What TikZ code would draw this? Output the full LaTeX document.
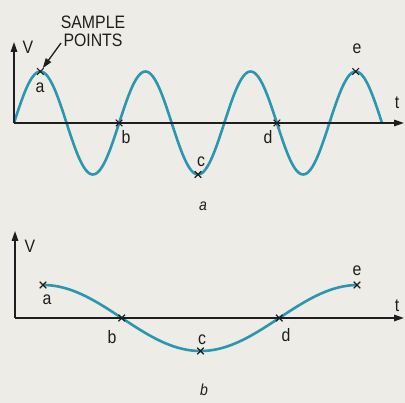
\documentclass[tikz,border=0pt]{standalone}
\usepackage{fontspec}
\setmainfont{Liberation Sans}[FakeStretch=0.88]
\usetikzlibrary{arrows.meta,shapes.misc}
\definecolor{bg}{RGB}{237,236,231}
\definecolor{wave}{RGB}{42,150,176}
\definecolor{ink}{RGB}{30,30,30}
\tikzset{
  axis/.style={draw=ink,line width=1.4pt,-{Triangle[length=10pt,width=6.5pt]}},
  wavepath/.style={draw=wave,line width=2.6pt},
  smp/.style={cross out,draw=ink,line width=1.1pt,minimum size=5.5pt,inner sep=0pt},
  lbl/.style={text=ink,font=\fontsize{18}{20}\selectfont,inner sep=0pt},
  captxt/.style={text=ink,font=\fontsize{16}{18}\selectfont\itshape,inner sep=0pt},
  pointer/.style={draw=ink,line width=1.3pt,-{Triangle[length=10pt,width=6.5pt]}}
}
\begin{document}
\begin{tikzpicture}[x=1pt,y=-1pt]
\useasboundingbox (0,0) rectangle (405,403);
\fill[bg] (0,0) rectangle (405,403);
% ---- top plot
\coordinate (o1) at (14,123);
\coordinate (v1) at (14,42);
\coordinate (t1) at (404,123);
\draw[wavepath] plot[domain=14:382,samples=250,smooth] (\x,{123-51.5*sin(((\x-14)/105.14)*360)});
\draw[axis] (o1) -- (v1);
\draw[axis] (o1) -- (t1);
\node[smp] (A1) at (40.3,71.5) {};
\node[smp] (B1) at (119.1,123) {};
\node[smp] (C1) at (198,174.5) {};
\node[smp] (D1) at (276.9,123) {};
\node[smp] (E1) at (355.7,71.5) {};
\node[lbl] (la1) at (40,88) {a};
\node[lbl] (lb1) at (126,137) {b};
\node[lbl] (lc1) at (201,162) {c};
\node[lbl] (ld1) at (268,137) {d};
\node[lbl] (le1) at (357,49) {e};
\node[lbl] (lt1) at (397,103) {t};
\node[lbl] (lv1) at (28,47) {V};
\node[lbl,align=center,font=\fontsize{18}{18}\selectfont] (sp) at (93,31) {SAMPLE\\POINTS};
\coordinate (spa) at (61,43);
\draw[pointer] (spa) -- (A1);
\node[captxt] (capa) at (203,206) {a};
% ---- bottom plot
\coordinate (o2) at (15,318);
\coordinate (v2) at (15,231);
\coordinate (t2) at (404,318);
\draw[wavepath] plot[domain=43:357,samples=150,smooth] (\x,{318-33*cos(((\x-43)/315)*360)});
\draw[axis] (o2) -- (v2);
\draw[axis] (o2) -- (t2);
\node[smp] (A2) at (43,285) {};
\node[smp] (B2) at (121.75,318) {};
\node[smp] (C2) at (200.5,351) {};
\node[smp] (D2) at (279.25,318) {};
\node[smp] (E2) at (357,285) {};
\node[lbl] (la2) at (47,300) {a};
\node[lbl] (lb2) at (112,337) {b};
\node[lbl] (lc2) at (202,340) {c};
\node[lbl] (ld2) at (286,335) {d};
\node[lbl] (le2) at (357,271) {e};
\node[lbl] (lt2) at (397,306) {t};
\node[lbl] (lv2) at (30,246) {V};
\node[captxt] (capb) at (204,390) {b};
\end{tikzpicture}
\end{document}
